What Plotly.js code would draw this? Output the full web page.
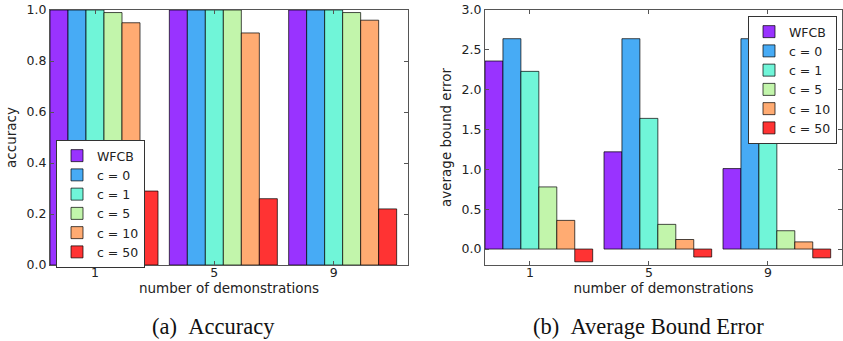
<!DOCTYPE html>
<html><head><meta charset="utf-8">
<script src="https://cdn.plot.ly/plotly-3.0.1.min.js"></script>
<style>html,body{margin:0;padding:0;background:#fff}#chart{width:843px;height:341px}</style>
</head><body><div id="chart"></div>
<script>
const groups = ['1', '5', '9'];
const seriesNames = ['WFCB', 'c = 0', 'c = 1', 'c = 5', 'c = 10', 'c = 50'];
const seriesColors = ['#9933ff', '#47abf5', '#70f5d8', '#c2f5ab', '#ffab72', '#ff3333'];

const accWFCB = [1.00, 1.00, 1.00];
const accC0   = [1.00, 1.00, 1.00];
const accC1   = [1.00, 1.00, 1.00];
const accC5   = [0.99, 1.00, 0.99];
const accC10  = [0.95, 0.91, 0.96];
const accC50  = [0.29, 0.26, 0.22];

const errWFCB = [2.36, 1.22, 1.01];
const errC0   = [2.64, 2.64, 2.64];
const errC1   = [2.23, 1.64, 1.41];
const errC5   = [0.78, 0.31, 0.23];
const errC10  = [0.36, 0.12, 0.09];
const errC50  = [-0.16, -0.10, -0.11];

const accSeries = [accWFCB, accC0, accC1, accC5, accC10, accC50];
const errSeries = [errWFCB, errC0, errC1, errC5, errC10, errC50];

const BARGAP = 0.095;
const xIdx = groups.map((g, i) => i);
const halfBar = (1 - BARGAP) / seriesNames.length / 2;
const tickPos = xIdx.map(i => i - halfBar);
const xRange = [-(1 - BARGAP) / 2, groups.length - 1 + (1 - BARGAP) / 2 + BARGAP];

const FONT = 'DejaVu Sans, sans-serif';
const traces = [];
seriesNames.forEach((name, k) => {
  traces.push({type: 'bar', x: xIdx, y: accSeries[k], name: name, xaxis: 'x', yaxis: 'y',
    marker: {color: seriesColors[k], line: {color: 'rgba(0,0,0,0.7)', width: 1}}, legend: 'legend'});
});
seriesNames.forEach((name, k) => {
  traces.push({type: 'bar', x: xIdx, y: errSeries[k], name: name, xaxis: 'x2', yaxis: 'y2',
    marker: {color: seriesColors[k], line: {color: 'rgba(0,0,0,0.7)', width: 1}}, legend: 'legend2'});
});

const W = 843, H = 341;
const axCommon = {showline: true, linecolor: '#555', linewidth: 1, mirror: 'allticks', ticks: 'inside',
  ticklen: 4, tickcolor: '#555', showgrid: false, zeroline: false, tickfont: {family: FONT, size: 12.5, color: '#222'}};
const titleFont = {family: FONT, size: 13.5, color: '#222'};
const capFont = {family: 'Liberation Serif, Times New Roman, serif', size: 22.5, color: '#111'};

const layout = {
  width: W, height: H, margin: {l: 0, r: 0, t: 0, b: 0},
  paper_bgcolor: '#fff', plot_bgcolor: '#fff',
  barmode: 'group', bargap: BARGAP, bargroupgap: 0,
  font: {family: FONT, color: '#222'},
  xaxis: Object.assign({}, axCommon, {domain: [50 / W, 408 / W], anchor: 'y', range: xRange,
    tickvals: tickPos, ticktext: groups, ticklabelstandoff: -4,
    title: {text: 'number of demonstrations', font: titleFont, standoff: 0}}),
  yaxis: Object.assign({}, axCommon, {domain: [1 - 265 / H, 1 - 10 / H], anchor: 'x', range: [0, 1],
    dtick: 0.2, tickformat: '.1f',
    title: {text: 'accuracy', font: titleFont, standoff: 6}}),
  xaxis2: Object.assign({}, axCommon, {domain: [485 / W, 842 / W], anchor: 'y2', range: xRange,
    tickvals: tickPos, ticktext: groups, ticklabelstandoff: -4,
    title: {text: 'number of demonstrations', font: titleFont, standoff: 0}}),
  yaxis2: Object.assign({}, axCommon, {domain: [1 - 265 / H, 1 - 10 / H], anchor: 'x2', range: [-0.2, 3.0],
    tickvals: [0, 0.5, 1.0, 1.5, 2.0, 2.5, 3.0], tickformat: '.1f',
    title: {text: 'average bound error', font: titleFont, standoff: 6}}),
  legend: {x: 56 / W, y: 1 - 140 / H, xanchor: 'left', yanchor: 'top', bgcolor: '#fff',
    bordercolor: '#333', borderwidth: 1, font: {family: FONT, size: 12.5, color: '#222'}, traceorder: 'normal'},
  legend2: {x: 837 / W, y: 1 - 16 / H, xanchor: 'right', yanchor: 'top', bgcolor: '#fff',
    bordercolor: '#333', borderwidth: 1, font: {family: FONT, size: 12.5, color: '#222'}, traceorder: 'normal'},
  annotations: [
    {text: '(a)\u00a0\u00a0Accuracy', xref: 'paper', yref: 'paper', x: 213.5 / W, y: 1 - 326 / H, xanchor: 'center', yanchor: 'middle',
      showarrow: false, font: capFont},
    {text: '(b)\u00a0\u00a0Average Bound Error', xref: 'paper', yref: 'paper', x: 648 / W, y: 1 - 326 / H, xanchor: 'center', yanchor: 'middle',
      showarrow: false, font: capFont}
  ]
};

Plotly.newPlot('chart', traces, layout, {staticPlot: true, displayModeBar: false});
</script></body></html>
